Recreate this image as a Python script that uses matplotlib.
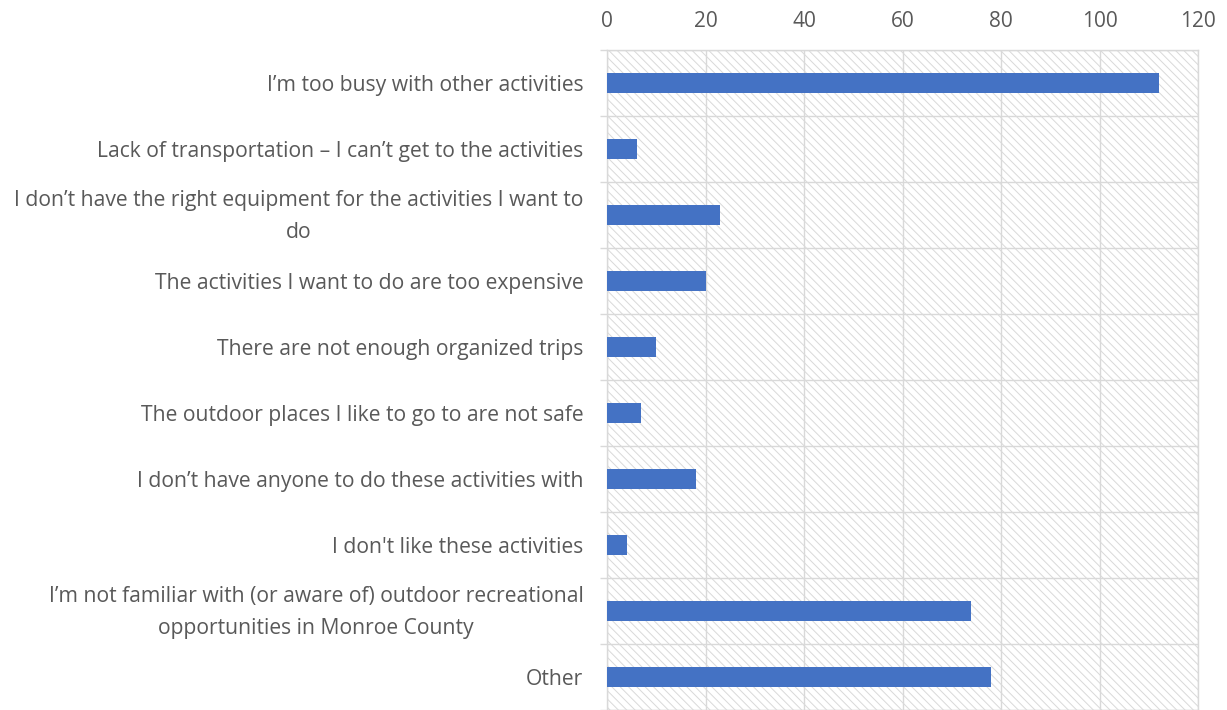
import matplotlib.pyplot as plt
from matplotlib.patches import Rectangle
from matplotlib.transforms import ScaledTranslation

# Survey responses: reasons for not taking part in outdoor recreation
reasons = [
    "I\u2019m too busy with other activities",
    "Lack of transportation \u2013 I can\u2019t get to the activities",
    "I don\u2019t have the right equipment for the activities I want to\ndo",
    "The activities I want to do are too expensive",
    "There are not enough organized trips",
    "The outdoor places I like to go to are not safe",
    "I don\u2019t have anyone to do these activities with",
    "I don't like these activities",
    "I\u2019m not familiar with (or aware of) outdoor recreational\nopportunities in Monroe County",
    "Other",
]
counts = [112, 6, 23, 20, 10, 7, 18, 4, 74, 78]
x_ticks = [0, 20, 40, 60, 80, 100, 120]

BAR_COLOR = "#4472C4"
GRID_COLOR = "#D9D9D9"
TEXT_COLOR = "#595959"

plt.rcParams["font.family"] = ["Open Sans", "DejaVu Sans"]
plt.rcParams["hatch.color"] = GRID_COLOR
plt.rcParams["hatch.linewidth"] = 0.7

fig = plt.figure(figsize=(12.27, 7.10), dpi=100)
ax = fig.add_axes([607 / 1227, 0.0, (1198 - 607) / 1227, 660 / 710])

# hatched plot-area background
bg = Rectangle((0, 0), 1, 1, transform=ax.transAxes, facecolor="white",
               edgecolor=GRID_COLOR, hatch="\\\\\\\\", linewidth=0, zorder=0)
ax.add_patch(bg)

y = list(range(len(reasons)))
ax.barh(y, counts, height=0.29, color=BAR_COLOR, zorder=3)

ax.set_xlim(0, 120)
ax.set_ylim(len(reasons) - 0.5, -0.5)
ax.set_xticks(x_ticks)
ax.set_yticks([i - 0.5 for i in range(len(reasons) + 1)], minor=False)
ax.set_yticklabels([])
ax.set_yticks(y, minor=True)
ax.set_yticklabels(reasons, minor=True)

ax.xaxis.tick_top()
ax.tick_params(axis="x", length=0, pad=13, labelsize=15, labelcolor=TEXT_COLOR)
ax.tick_params(axis="y", which="major", length=5, width=1.0, color=GRID_COLOR)
ax.tick_params(axis="y", which="minor", length=0, pad=17, labelsize=15.2,
               labelcolor=TEXT_COLOR)

# nudge wrapped labels up a little so the block sits centred on the bar
lift = ScaledTranslation(0, 5 / 72, fig.dpi_scale_trans)
for lbl in ax.get_yticklabels(minor=True):
    lbl.set_multialignment("center")
    lbl.set_linespacing(1.7)
    if "\n" in lbl.get_text():
        lbl.set_transform(lbl.get_transform() + lift)

ax.grid(True, which="major", color=GRID_COLOR, linewidth=1.0, zorder=1)
ax.set_axisbelow(True)
for s in ax.spines.values():
    s.set_color(GRID_COLOR)
    s.set_linewidth(1.0)

fig.savefig("out.png", dpi=100)
